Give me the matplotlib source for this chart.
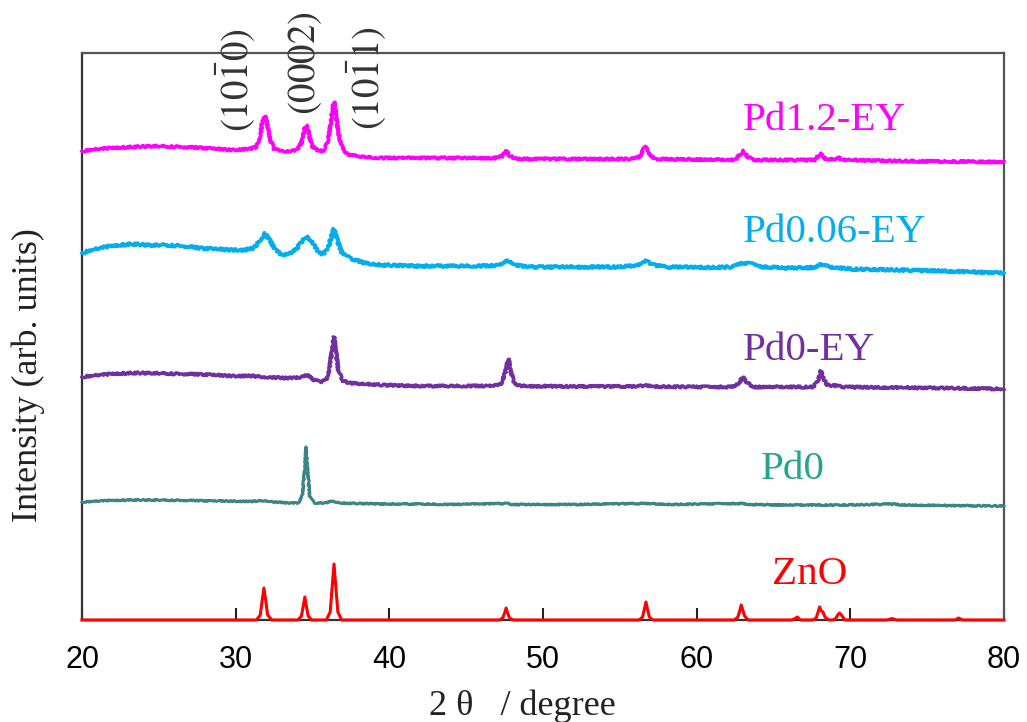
import numpy as np
import matplotlib
matplotlib.use("Agg")
import matplotlib.pyplot as plt

plt.rcParams["mathtext.fontset"] = "stix"

# ---- diffraction patterns: (2theta [deg], intensity [arb. units, offset]) ----
zno = [(20.0, 0), (31.35, 0), (31.6, 5), (31.72, 19), (31.84, 32), (31.96, 19), (32.08, 5), (32.35, 0),
       (34.05, 0), (34.28, 4), (34.4, 14), (34.5, 23), (34.6, 14), (34.72, 4), (34.95, 0),
       (35.9, 0), (36.15, 8), (36.28, 33), (36.4, 56), (36.52, 33), (36.65, 8), (36.9, 0),
       (47.15, 0), (47.38, 2), (47.5, 7), (47.6, 12), (47.7, 7), (47.82, 2), (48.05, 0),
       (56.25, 0), (56.48, 3), (56.6, 11), (56.7, 18), (56.8, 11), (56.92, 3), (57.15, 0),
       (62.45, 0), (62.68, 3), (62.8, 9), (62.9, 15), (63.0, 10), (63.12, 4), (63.35, 0),
       (66.2, 0), (66.4, 1.5), (66.55, 3), (66.75, 0),
       (67.55, 0), (67.78, 2), (67.9, 8), (68.0, 13), (68.12, 9), (68.22, 8), (68.35, 3), (68.6, 0),
       (68.85, 0), (69.05, 1.5), (69.18, 5), (69.3, 7), (69.42, 5), (69.65, 0),
       (72.4, 0), (72.7, 1.5), (73.0, 0),
       (76.8, 0), (77.05, 2), (77.3, 0), (80.0, 0)]

pd0 = [(20, 118), (21, 119), (23, 120), (25, 120), (27, 119.5), (29, 119), (31, 118.5),
       (31.9, 119.5), (32.5, 118), (33.5, 117), (34.1, 117), (34.35, 125), (34.48, 150),
       (34.58, 173), (34.68, 150), (34.82, 124), (35.1, 117), (35.8, 117), (36.3, 119),
       (36.8, 117), (38, 116.5), (40, 116), (42, 116), (44, 115.5), (47.6, 116.5), (48, 115.5),
       (52, 115.5), (56.7, 116.5), (58, 115.5), (62.9, 116.5), (63.4, 115.5), (66, 115),
       (70, 115), (72.8, 116), (73.3, 115), (76, 114.5), (80, 114)]

pd0_ey = [(20, 243), (21, 245), (22, 246), (23.3, 247), (24.5, 247), (26.5, 246), (28, 245.5),
          (29.8, 244), (31, 244), (32, 243), (33, 242), (33.8, 242), (34.3, 243), (34.7, 245),
          (35.1, 240), (35.5, 238), (35.9, 240), (36.1, 252), (36.25, 268), (36.4, 283),
          (36.55, 265), (36.7, 248), (37.0, 239), (37.4, 237), (38.5, 236), (39.5, 235),
          (42, 234), (44, 234), (46.8, 234), (47.3, 236), (47.55, 248), (47.75, 261),
          (47.9, 249), (48.15, 236), (48.6, 234), (52, 233.5), (56, 233.5), (56.7, 234.5),
          (57.2, 233.5), (60, 233), (62.3, 233), (62.7, 236), (63.0, 243), (63.3, 237),
          (63.7, 233), (66, 233), (67.6, 233), (67.9, 240), (68.08, 249), (68.25, 241),
          (68.5, 235), (69.2, 234), (69.6, 233), (72, 232.5), (76, 232), (80, 231)]

pd006_ey = [(20, 367), (20.6, 370), (21.5, 373), (22.5, 375), (23.3, 376), (24.3, 375),
            (25.4, 375), (26.5, 374), (27.6, 372), (28.7, 371), (29.8, 370), (30.6, 370),
            (31.2, 372), (31.6, 380), (31.9, 387), (32.2, 380), (32.6, 370), (33.0, 365),
            (33.5, 366), (34.0, 372), (34.4, 380), (34.7, 383), (35.0, 378), (35.4, 367),
            (35.7, 366), (36.0, 372), (36.2, 382), (36.4, 391), (36.6, 380), (36.9, 368),
            (37.4, 362), (38.4, 357), (39.5, 355), (42, 354), (44, 354), (46.5, 354),
            (47.2, 355), (47.7, 359), (48.2, 355), (49, 353), (52, 353), (55, 353),
            (56.3, 355), (56.7, 359), (57.2, 355), (58, 353), (61, 352.5), (62.3, 353),
            (63.0, 357), (63.6, 356), (64.3, 353), (66, 352), (67.7, 352.5), (68.1, 356),
            (68.6, 353), (70, 351), (73, 350), (76, 349), (80, 347)]

pd12_ey = [(20, 469), (21, 471), (22, 472), (23.3, 473), (24.6, 474), (25.5, 473.5), (26.5, 473),
           (28, 472), (29.8, 470), (30.9, 471), (31.35, 473), (31.6, 485), (31.75, 498),
           (31.9, 504), (32.05, 496), (32.25, 480), (32.5, 471), (33.0, 469), (33.5, 469),
           (34.0, 470), (34.3, 478), (34.45, 490), (34.6, 495), (34.75, 487), (34.95, 474),
           (35.4, 469), (35.8, 470), (36.05, 482), (36.25, 505), (36.4, 518), (36.55, 503),
           (36.75, 482), (37.0, 470), (37.4, 465), (38.4, 463), (39.5, 462), (42, 462),
           (45, 462), (46.9, 462), (47.35, 464), (47.6, 469), (47.85, 464), (48.3, 461),
           (50, 461), (53, 461), (55.8, 461), (56.3, 463), (56.55, 471), (56.7, 473),
           (56.9, 466), (57.3, 461), (60, 460.5), (62.5, 460), (62.85, 466), (63.05, 469),
           (63.3, 463), (63.8, 460), (66, 460), (67.7, 460), (67.95, 465), (68.1, 466),
           (68.35, 461), (69.0, 461), (69.2, 463), (69.45, 460), (70, 460), (73, 459),
           (76, 458.5), (80, 458)]

series_names = ["ZnO", "Pd0", "Pd0-EY", "Pd0.06-EY", "Pd1.2-EY"]
series_data = [zno, pd0, pd0_ey, pd006_ey, pd12_ey]
line_colors = ["#FF0000", "#3D8583", "#7030A0", "#00AEEF", "#FF00FF"]
text_colors = ["#FF0000", "#23A68C", "#7030A0", "#00AEEF", "#FF00FF"]
line_widths = [2.2, 2.2, 2.5, 2.6, 2.5]
# label anchor (2theta, intensity) for each pattern name
label_pos = [(64.9, 36), (64.2, 141), (63.0, 260), (63.0, 378), (63.0, 490)]
# jitter amplitude used to render counting noise
noise_px = [0.0, 0.6, 1.0, 1.2, 1.0]

# Miller indices of the main wurtzite reflections
hkl_labels = [r"$\mathrm{(10\bar{1}0)}$", r"$\mathrm{(0002)}$", r"$\mathrm{(10\bar{1}1)}$"]
hkl_pos = [(30.0, 488), (34.5, 505), (38.5, 490)]

x_ticks = [20, 30, 40, 50, 60, 70, 80]

fig = plt.figure(figsize=(10.27, 7.22), dpi=100)
ax = fig.add_axes([82 / 1027, 1 - 620 / 722, 922 / 1027, 567 / 722])

for data, lc, lw, nz in zip(series_data, line_colors, line_widths, noise_px):
    arr = np.array(data, dtype=float)
    ln, = ax.plot(arr[:, 0], arr[:, 1], color=lc, lw=lw, zorder=3,
                  clip_on=False, solid_joinstyle="round")
    if nz > 0:
        ln.set_sketch_params(scale=nz, length=2.5, randomness=3)

serif = ["Liberation Serif", "DejaVu Serif"]
for name, (lx, ly), tc in zip(series_names, label_pos, text_colors):
    ax.text(lx, ly, name, color=tc, fontsize=29.5, family=serif,
            ha="left", va="baseline")

for lab, (hx, hy) in zip(hkl_labels, hkl_pos):
    ax.text(hx, hy, lab, rotation=90, fontsize=28, color="#333333",
            ha="center", va="bottom", clip_on=False)

ax.set_xlim(20, 80)
ax.set_ylim(0, 567)
ax.set_xticks(x_ticks)
ax.set_yticks([])
ax.tick_params(axis="x", direction="in", length=9, width=1.5, color="#222222",
               pad=18, labelsize=22)
for lbl in ax.get_xticklabels():
    lbl.set_family(["Liberation Sans", "DejaVu Sans"])

for side in ["left", "bottom"]:
    ax.spines[side].set_color("#333333")
    ax.spines[side].set_linewidth(1.6)
for side in ["top", "right"]:
    ax.spines[side].set_color("#555555")
    ax.spines[side].set_linewidth(1.6)

fig.text(28 / 1027, 1 - 375 / 722, "Intensity (arb. units)", rotation=90,
         fontsize=26, family=serif, color="#222222", ha="center", va="center")
fig.text(522 / 1027, 1 - 706 / 722, "2 θ   / degree", fontsize=26, family=serif,
         color="#222222", ha="center", va="center")

fig.savefig("out.png", dpi=100)
